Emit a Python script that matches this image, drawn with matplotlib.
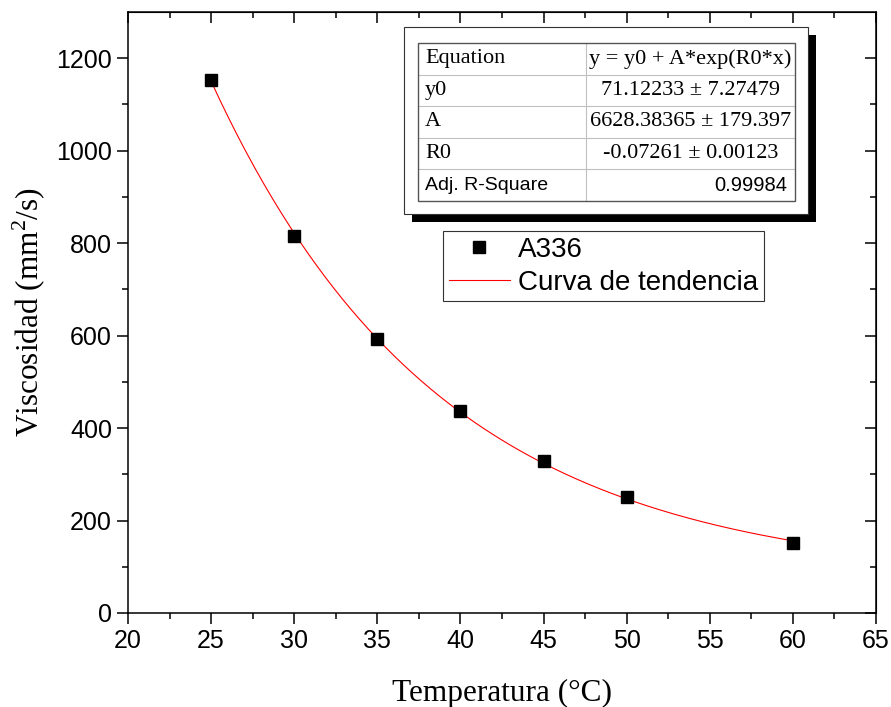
import matplotlib
matplotlib.use("Agg")
import matplotlib.pyplot as plt
import numpy as np
from matplotlib.patches import Rectangle
from matplotlib.lines import Line2D

# measured data (temperature in C, viscosity in mm2/s)
temp_c = [25, 30, 35, 40, 45, 50, 60]
visc = [1153, 816, 592, 436, 328, 250, 152]

# fit parameters shown in the Origin table
y0 = 71.12233
A = 6628.38365
R0 = -0.07261

table_rows = [
    ("Equation", "y = y0 + A*exp(R0*x)"),
    ("y0", "71.12233 \u00b1 7.27479"),
    ("A", "6628.38365 \u00b1 179.397"),
    ("R0", "-0.07261 \u00b1 0.00123"),
    ("Adj. R-Square", "0.99984"),
]

W, H = 891, 707
serif = "Liberation Serif"
sans = "Liberation Sans"

plt.rcParams["mathtext.fontset"] = "custom"
plt.rcParams["mathtext.rm"] = serif


def fx(px):
    return px / W


def fy(py):
    return 1 - py / H


def main():
    fig = plt.figure(figsize=(W / 100, H / 100), dpi=100)
    ax = fig.add_axes([fx(128), fy(613), fx(876) - fx(128), fy(12) - fy(613)])

    xs = np.linspace(25, 60, 200)
    ax.plot(xs, y0 + A * np.exp(R0 * xs), color="red", lw=0.8,
            label="Curva de tendencia", zorder=2)
    ax.plot(temp_c, visc, ls="none", marker="s", ms=9, color="black",
            label="A336", zorder=3)

    ax.set_xlim(20, 65)
    ax.set_ylim(0, 1300)
    ax.set_xticks(np.arange(20, 66, 5))
    ax.set_xticks(np.arange(22.5, 65, 5), minor=True)
    ax.set_yticks(np.arange(0, 1201, 200))
    ax.set_yticks(np.arange(100, 1300, 200), minor=True)

    for s in ax.spines.values():
        s.set_linewidth(1.1)
    ax.tick_params(which="both", direction="out", width=1.1,
                   labelsize=18, top=False, right=False)
    ax.tick_params(which="major", length=8)
    ax.tick_params(which="minor", length=4)
    for lab in ax.get_xticklabels() + ax.get_yticklabels():
        lab.set_fontfamily(sans)

    # inward ticks on top / right like Origin
    ax2 = ax.secondary_xaxis("top")
    ax2.set_xticks(np.arange(20, 66, 5))
    ax2.set_xticks(np.arange(22.5, 65, 5), minor=True)
    ax2.tick_params(which="both", direction="in", width=1.1, labeltop=False)
    ax2.tick_params(which="major", length=8)
    ax2.tick_params(which="minor", length=4)
    ax3 = ax.secondary_yaxis("right")
    ax3.set_yticks(np.arange(0, 1201, 200))
    ax3.set_yticks(np.arange(100, 1300, 200), minor=True)
    ax3.tick_params(which="both", direction="in", width=1.1, labelright=False)
    ax3.tick_params(which="major", length=8)
    ax3.tick_params(which="minor", length=4)

    ax.set_xlabel("Temperatura (\u00b0C)", fontfamily=serif, fontsize=22.5,
                  labelpad=19)
    ax.set_ylabel("Viscosidad (mm$^2$/s)", fontfamily=serif, fontsize=22.5,
                  labelpad=6)

    leg = ax.legend(handles=[ax.lines[1], ax.lines[0]],
                    loc="upper left",
                    bbox_to_anchor=(fx(443), fy(231)),
                    bbox_transform=fig.transFigure,
                    prop={"family": sans, "size": 20},
                    fancybox=False, framealpha=1, edgecolor="#333333",
                    borderpad=0.2, labelspacing=0.25, handlelength=2.2,
                    handletextpad=0.3, borderaxespad=0)
    leg.get_frame().set_linewidth(0.8)

    # fit table with shadow
    tf = fig.transFigure
    fig.add_artist(Rectangle((fx(412), fy(222)), fx(816) - fx(412),
                             fy(35) - fy(222), transform=tf,
                             facecolor="black", edgecolor="none", zorder=5))
    fig.add_artist(Rectangle((fx(404), fy(214)), fx(808) - fx(404),
                             fy(27) - fy(214), transform=tf,
                             facecolor="white", edgecolor="#333333",
                             lw=0.8, zorder=6))
    left, mid, right = 418, 586, 795
    top, bottom = 43, 201
    rh = (bottom - top) / len(table_rows)
    fig.add_artist(Rectangle((fx(left), fy(bottom)), fx(right) - fx(left),
                             fy(top) - fy(bottom), transform=tf,
                             facecolor="none", edgecolor="#555555",
                             lw=1.0, zorder=8))
    fig.add_artist(Line2D([fx(mid), fx(mid)], [fy(top), fy(bottom)],
                          transform=tf, color="#c0c0c0", lw=0.8, zorder=7))
    for i, (name, val) in enumerate(table_rows):
        if i > 0:
            yy = fy(top + i * rh)
            fig.add_artist(Line2D([fx(left), fx(right)], [yy, yy],
                                  transform=tf, color="#c0c0c0", lw=0.8,
                                  zorder=7))
        yc = fy(top + (i + 0.5) * rh)
        last = i == len(table_rows) - 1
        fig.text(fx(left + 7), yc, name, fontfamily=sans if last else serif,
                 fontsize=14 if last else 16, va="center", ha="left",
                 zorder=9)
        if last:
            fig.text(fx(right - 8), yc, val, fontfamily=sans, fontsize=14.5,
                     va="center", ha="right", zorder=9)
        else:
            fig.text(fx((mid + right) / 2), yc, val, fontfamily=serif,
                     fontsize=16, va="center", ha="center", zorder=9)

    fig.savefig("out.png", dpi=100)


main()
